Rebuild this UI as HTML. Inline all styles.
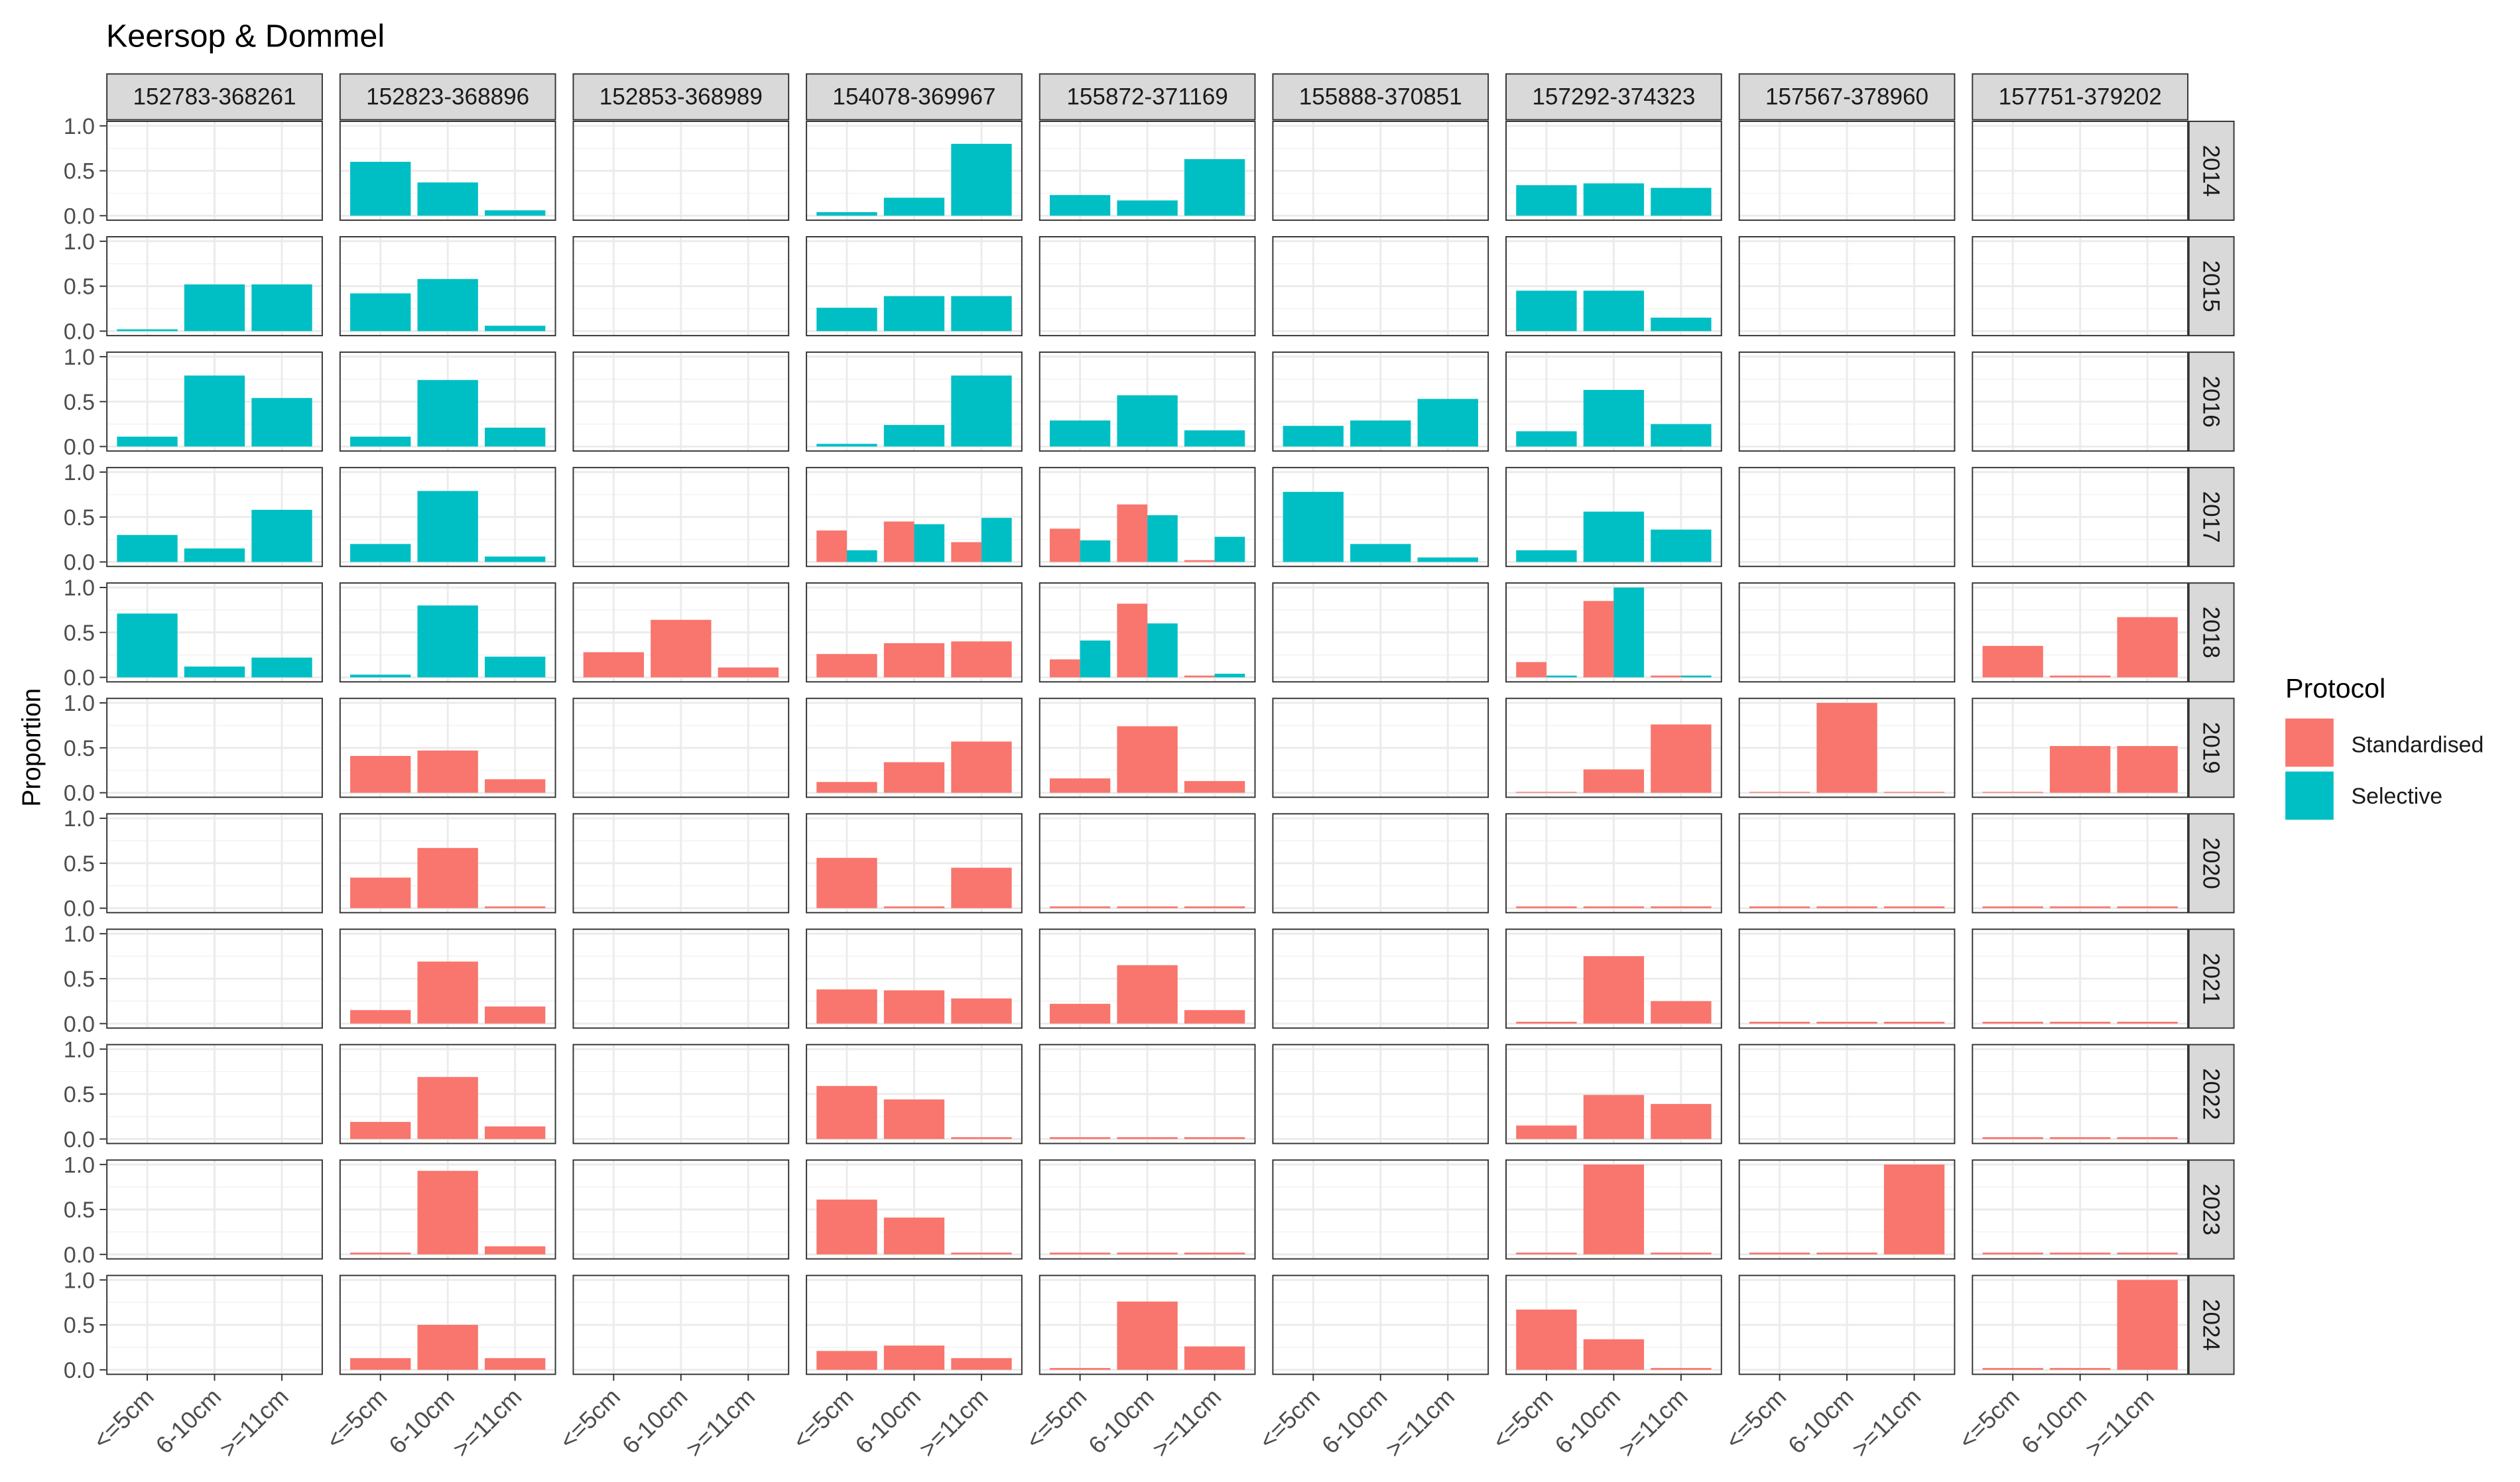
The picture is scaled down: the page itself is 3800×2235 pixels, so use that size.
<!DOCTYPE html>
<html><head><meta charset="utf-8"><style>
html,body{margin:0;padding:0;background:#fff;}
svg{display:block;font-family:"Liberation Sans",Arial,sans-serif;}
</style></head><body>
<svg id="chart" width="3800" height="2235" viewBox="0 0 1568 922" preserveAspectRatio="none" xmlns="http://www.w3.org/2000/svg">
<text x="66" y="29" font-size="20" fill="#000">Keersop &amp; Dommel</text>
<text transform="translate(25,465) rotate(-90)" text-anchor="middle" font-size="16" fill="#000">Proportion</text>
<g>
<text x="1422" y="434" font-size="17" fill="#000">Protocol</text>
<rect x="1422" y="447" width="30" height="30" fill="#F8766D"/>
<text x="1463" y="468" font-size="14" fill="#1a1a1a">Standardised</text>
<rect x="1422" y="480" width="30" height="30" fill="#00BFC4"/>
<text x="1463" y="500" font-size="14" fill="#1a1a1a">Selective</text>
</g>
<g id="panels"></g>
</svg>
<script>
const sites = ["152783-368261","152823-368896","152853-368989","154078-369967","155872-371169","155888-370851","157292-374323","157567-378960","157751-379202"];
const years = ["2014","2015","2016","2017","2018","2019","2020","2021","2022","2023","2024"];
const categories = ["<=5cm","6-10cm",">=11cm"];
const yTicks = [0, 0.5, 1.0];
const yTickLabels = ["0.0","0.5","1.0"];
// Standardised values [year][site] (null = no data)
const standardised = [
 [null,null,null,null,null,null,null,null,null],
 [null,null,null,null,null,null,null,null,null],
 [null,null,null,null,null,null,null,null,null],
 [null,null,null,[0.35,0.45,0.22],[0.37,0.64,0.02],null,null,null,null],
 [null,null,[0.28,0.64,0.11],[0.26,0.38,0.40],[0.20,0.82,0.02],null,[0.17,0.85,0.02],null,[0.35,0.02,0.67]],
 [null,[0.41,0.47,0.15],null,[0.12,0.34,0.57],[0.16,0.74,0.13],null,[0.01,0.26,0.76],[0.01,1.0,0.01],[0.01,0.52,0.52]],
 [null,[0.34,0.67,0.02],null,[0.56,0.02,0.45],[0.02,0.02,0.02],null,[0.02,0.02,0.02],[0.02,0.02,0.02],[0.02,0.02,0.02]],
 [null,[0.15,0.69,0.19],null,[0.38,0.37,0.28],[0.22,0.65,0.15],null,[0.02,0.75,0.25],[0.02,0.02,0.02],[0.02,0.02,0.02]],
 [null,[0.19,0.69,0.14],null,[0.59,0.44,0.02],[0.02,0.02,0.02],null,[0.15,0.49,0.39],null,[0.02,0.02,0.02]],
 [null,[0.02,0.93,0.09],null,[0.61,0.41,0.02],[0.02,0.02,0.02],null,[0.02,1.0,0.02],[0.02,0.02,1.0],[0.02,0.02,0.02]],
 [null,[0.13,0.50,0.13],null,[0.21,0.27,0.13],[0.02,0.76,0.26],null,[0.67,0.34,0.02],null,[0.02,0.02,1.0]]
];
// Selective values [year][site]
const selective = [
 [null,[0.60,0.37,0.06],null,[0.04,0.20,0.80],[0.23,0.17,0.63],null,[0.34,0.36,0.31],null,null],
 [[0.02,0.52,0.52],[0.42,0.58,0.06],null,[0.26,0.39,0.39],null,null,[0.45,0.45,0.15],null,null],
 [[0.11,0.79,0.54],[0.11,0.74,0.21],null,[0.03,0.24,0.79],[0.29,0.57,0.18],[0.23,0.29,0.53],[0.17,0.63,0.25],null,null],
 [[0.30,0.15,0.58],[0.20,0.79,0.06],null,[0.13,0.42,0.49],[0.24,0.52,0.28],[0.78,0.20,0.05],[0.13,0.56,0.36],null,null],
 [[0.71,0.12,0.22],[0.03,0.80,0.23],null,null,[0.41,0.60,0.04],null,[0.02,1.0,0.02],null,null],
 [null,null,null,null,null,null,null,null,null],
 [null,null,null,null,null,null,null,null,null],
 [null,null,null,null,null,null,null,null,null],
 [null,null,null,null,null,null,null,null,null],
 [null,null,null,null,null,null,null,null,null],
 [null,null,null,null,null,null,null,null,null]
];
const NS="http://www.w3.org/2000/svg";
const root=document.getElementById('panels');
const X0=66.5, XSTEP=145.1, PW=134, Y0=75.5, YSTEP=71.8, PH=61.5;
function mk(tag,attrs,parent){const e=document.createElementNS(NS,tag);for(const k in attrs)e.setAttribute(k,attrs[k]);parent.appendChild(e);return e;}
function xScale(col,pos){return X0+col*XSTEP+(pos-0.4)/3.2*PW;}
function yScale(row,v){return Y0+row*YSTEP+(1.05-v)/1.1*PH;}
sites.forEach((s,c)=>{
  const x=X0+c*XSTEP;
  const r=mk('rect',{x:x,y:46,width:PW,height:28.5,fill:'#D9D9D9',stroke:'#333',"stroke-width":0.8},root);
  
  
  const t=mk('text',{x:x+PW/2,y:65,"text-anchor":"middle","font-size":14.5,fill:'#1a1a1a'},root);
  
  
  t.textContent=s;
});
years.forEach((yr,r)=>{
  const py=Y0+r*YSTEP;
  const rs=mk('rect',{x:1362,y:py,width:28,height:PH,fill:'#D9D9D9',stroke:'#333',"stroke-width":0.8},root);
  
  
  const t=mk('text',{transform:`translate(${1371},${py+PH/2}) rotate(90)`,"text-anchor":"middle","font-size":14.5,fill:'#1a1a1a'},root);
  
  
  t.textContent=yr;
  yTicks.forEach((v,i)=>{
    const yy=yScale(r,v);
    const tl=mk('text',{x:59,y:yy+5,"text-anchor":"end","font-size":14,fill:'#4d4d4d'},root);
    
    
    tl.textContent=yTickLabels[i];
    mk('line',{x1:62,x2:66,y1:yy,y2:yy,stroke:'#333',"stroke-width":0.8},root);
  });
  sites.forEach((s,c)=>{
    const px=X0+c*XSTEP;
    const g=mk('g',{},root);
    
    
    mk('rect',{x:px,y:py,width:PW,height:PH,fill:'#fff'},g);
    [0.25,0.75].forEach(v=>mk('line',{x1:px,x2:px+PW,y1:yScale(r,v),y2:yScale(r,v),stroke:'#F2F2F2',"stroke-width":0.6},g));
    yTicks.forEach(v=>mk('line',{x1:px,x2:px+PW,y1:yScale(r,v),y2:yScale(r,v),stroke:'#EBEBEB',"stroke-width":1.2},g));
    categories.forEach((_,k)=>{const xx=xScale(c,k+1);mk('line',{x1:xx,x2:xx,y1:py,y2:py+PH,stroke:'#EBEBEB',"stroke-width":1.2},g);});
    const sd=standardised[r][c], se=selective[r][c];
    const both=sd&&se;
    const series=[];
    if(sd)series.push({vals:sd,col:'#F8766D',name:'standardised'});
    if(se)series.push({vals:se,col:'#00BFC4',name:'selective'});
    series.forEach((sr,si)=>{
      sr.vals.forEach((v,k)=>{
        let left,w;
        if(both){w=0.45;left=k+1-0.45+si*0.45;}else{w=0.9;left=k+1-0.45;}
        const x1=xScale(c,left),x2=xScale(c,left+w);
        const y1=yScale(r,v),y2=yScale(r,0);
        const b=mk('rect',{x:x1,y:y1,width:x2-x1,height:y2-y1,fill:sr.col},g);
        
        
      });
    });
    mk('rect',{x:px,y:py,width:PW,height:PH,fill:'none',stroke:'#333',"stroke-width":0.8},g);
  });
});
const lastY=Y0+(years.length-1)*YSTEP+PH;
sites.forEach((s,c)=>{
  categories.forEach((cat,k)=>{
    const xx=xScale(c,k+1);
    mk('line',{x1:xx,x2:xx,y1:lastY,y2:lastY+4,stroke:'#333',"stroke-width":0.8},root);
    const t=mk('text',{transform:`translate(${xx+5},${lastY+15}) rotate(-45)`,"text-anchor":"end","font-size":15,fill:'#4d4d4d'},root);
    
    
    t.textContent=cat;
  });
});
</script>
</body></html>
